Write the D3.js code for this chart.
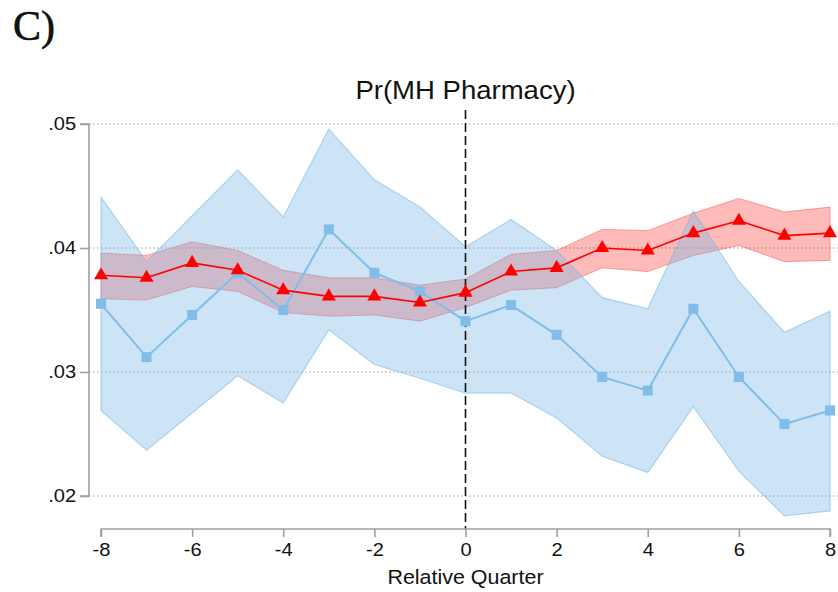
<!DOCTYPE html>
<html>
<head>
<meta charset="utf-8">
<script src="https://cdn.jsdelivr.net/npm/d3@7/dist/d3.min.js"></script>
<style>
  html, body { margin: 0; padding: 0; background: #fff; }
  svg { display: block; }
</style>
</head>
<body>
<svg id="chart" width="838" height="592"></svg>
<script>
const quarters = [-8,-7,-6,-5,-4,-3,-2,-1,0,1,2,3,4,5,6,7,8];
const redEst  = [.0378,.0376,.0388,.0382,.0366,.0361,.0361,.0356,.0364,.0381,.0384,.0400,.0398,.0412,.0422,.0410,.0412];
const redLo   = [.0359,.0358,.0369,.0365,.0348,.0345,.0346,.0341,.0352,.0366,.0368,.0384,.0381,.0394,.0402,.0389,.0390];
const redHi   = [.0396,.0394,.0405,.0398,.0382,.0376,.0376,.0370,.0375,.0395,.0398,.0415,.0414,.0428,.0440,.0429,.0433];
const blueEst = [.0355,.0312,.0346,.0380,.0350,.0415,.0380,.0365,.0341,.0354,.0330,.0296,.0285,.0351,.0296,.0258,.0269];
const blueLo  = [.0269,.0237,.0267,.0297,.0275,.0334,.0306,.0295,.0283,.0283,.0263,.0232,.0219,.0272,.0220,.0184,.0188];
const blueHi  = [.0441,.0389,.0426,.0463,.0425,.0496,.0455,.0433,.0401,.0423,.0398,.0360,.0351,.0430,.0373,.0332,.0349];
const yTicks = [.02,.03,.04,.05];
const xTicks = [-8,-6,-4,-2,0,2,4,6,8];
const title = "Pr(MH Pharmacy)";
const xTitle = "Relative Quarter";
const panelLabel = "C)";

const SANS = "'Liberation Sans', Arial, sans-serif";
const svg = d3.select("#chart");
const x = d3.scaleLinear().domain([-8, 8]).range([101, 830]);
const y = d3.scaleLinear().domain([.02, .05]).range([496, 124]);

const red = quarters.map((q,i)=>({q, est: redEst[i], lo: redLo[i], hi: redHi[i]}));
const blue = quarters.map((q,i)=>({q, est: blueEst[i], lo: blueLo[i], hi: blueHi[i]}));

// panel label
svg.append("text").attr("x", 13).attr("y", 40)
  .attr("font-family", "'Liberation Serif', 'DejaVu Serif', serif")
  .attr("font-size", 42).attr("fill", "#111")
  .attr("stroke", "#111").attr("stroke-width", 0.6)
  .text(panelLabel);

// title (slightly stretched horizontally as in the reference)
svg.append("text").attr("transform", `translate(${x(0)},99) scale(1.08,1)`)
  .attr("text-anchor", "middle")
  .attr("font-family", SANS)
  .attr("font-size", 25.5).attr("fill", "#111").text(title);

// gridlines
svg.append("g").selectAll("line").data(yTicks).join("line")
  .attr("x1", 89).attr("x2", 838)
  .attr("y1", d => y(d)).attr("y2", d => y(d))
  .attr("stroke", "#9a9a9a").attr("stroke-width", 1.2)
  .attr("stroke-dasharray", "1.5,2.5");

const area = d3.area().x(d => x(d.q)).y0(d => y(d.lo)).y1(d => y(d.hi));
const line = d3.line().x(d => x(d.q)).y(d => y(d.est));

// red band
svg.append("path").datum(red).attr("d", area)
  .attr("fill", "rgba(255,0,0,0.27)").attr("stroke", "rgba(255,60,60,0.45)").attr("stroke-width", 1);
// blue band
svg.append("path").datum(blue).attr("d", area)
  .attr("fill", "rgba(120,185,230,0.38)").attr("stroke", "rgba(120,185,230,0.55)").attr("stroke-width", 1.2);

// vertical dashed line at 0
svg.append("line").attr("x1", x(0)).attr("x2", x(0)).attr("y1", 110).attr("y2", 529)
  .attr("stroke", "#111").attr("stroke-width", 1.6).attr("stroke-dasharray", "9,4");

// blue line
svg.append("path").datum(blue).attr("d", line)
  .attr("fill", "none").attr("stroke", "#80bde8").attr("stroke-width", 2);
svg.append("g").selectAll("rect").data(blue).join("rect")
  .attr("x", d => x(d.q) - 5).attr("y", d => y(d.est) - 5)
  .attr("width", 10).attr("height", 10).attr("fill", "#80bde8");

// red line
svg.append("path").datum(red).attr("d", line)
  .attr("fill", "none").attr("stroke", "#ff0000").attr("stroke-width", 1.6);
svg.append("g").selectAll("path").data(red).join("path")
  .attr("d", d3.symbol().type(d3.symbolTriangle).size(85))
  .attr("transform", d => `translate(${x(d.q)},${y(d.est)})`)
  .attr("fill", "#ff0000");

// y axis
const yAxis = svg.append("g").attr("transform", "translate(89,0)")
  .call(d3.axisLeft(y).tickValues(yTicks).tickSize(9).tickPadding(4)
    .tickFormat(d => d3.format(".2f")(d).replace(/^0/, "")));
yAxis.select(".domain").attr("stroke", "#a0a0a0").attr("stroke-width", 1.6).attr("d", `M-9,${y(.05)}H0V${y(.02)}H-9`);
yAxis.selectAll(".tick line").attr("stroke", "#a0a0a0").attr("stroke-width", 1.6);
yAxis.selectAll(".tick text").attr("font-family", SANS)
  .attr("font-size", 18.6).attr("fill", "#111")
  .attr("transform", "scale(1.08,1)").attr("x", -12);

// x axis
const xAxis = svg.append("g").attr("transform", "translate(0,529)")
  .call(d3.axisBottom(x).tickValues(xTicks).tickSize(8).tickPadding(6).tickFormat(d3.format("d")));
xAxis.select(".domain").attr("stroke", "#a0a0a0").attr("stroke-width", 1.6).attr("d", `M${x(-8)},8V0H${x(8)}V8`);
xAxis.selectAll(".tick line").attr("stroke", "#a0a0a0").attr("stroke-width", 1.6);
xAxis.selectAll(".tick text").attr("font-family", SANS)
  .attr("font-size", 18.6).attr("fill", "#111")
  .attr("transform", "scale(1.08,1)")
  .text(d => String(d).replace("−","-"));

svg.append("text").attr("transform", `translate(${x(0)},584) scale(1.1,1)`)
  .attr("text-anchor", "middle")
  .attr("font-family", SANS)
  .attr("font-size", 19.5).attr("fill", "#111").text(xTitle);
</script>
</body>
</html>
